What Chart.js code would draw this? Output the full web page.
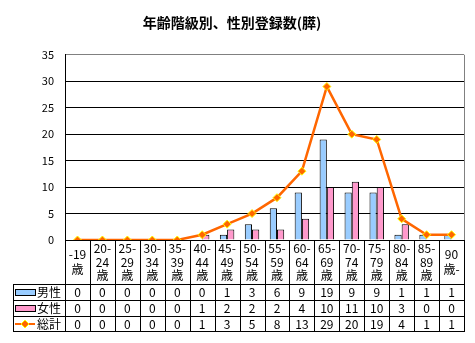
<!DOCTYPE html>
<html>
<head>
<meta charset="utf-8">
<script src="https://cdn.jsdelivr.net/npm/chart.js@4"></script>
<style>
  html, body { margin: 0; padding: 0; background: #fff; }
  #wrap { width: 475px; height: 343px; }
</style>
</head>
<body>
<div id="wrap"><canvas id="myChart" width="475" height="343"></canvas></div>
<script>
const categories = ['-19歳', '20-24歳', '25-29歳', '30-34歳', '35-39歳', '40-44歳', '45-49歳', '50-54歳',
  '55-59歳', '60-64歳', '65-69歳', '70-74歳', '75-79歳', '80-84歳', '85-89歳', '90歳-']
const tickLines = [['-19', '歳'], ['20-', '24', '歳'], ['25-', '29', '歳'], ['30-', '34', '歳'], ['35-', '39', '歳'],
  ['40-', '44', '歳'], ['45-', '49', '歳'], ['50-', '54', '歳'], ['55-', '59', '歳'], ['60-', '64', '歳'],
  ['65-', '69', '歳'], ['70-', '74', '歳'], ['75-', '79', '歳'], ['80-', '84', '歳'], ['85-', '89', '歳'], ['90', '歳-']]
const male = [0, 0, 0, 0, 0, 0, 1, 3, 6, 9, 19, 9, 9, 1, 1, 1]
const female = [0, 0, 0, 0, 0, 1, 2, 2, 2, 4, 10, 11, 10, 3, 0, 0]
const total = [0, 0, 0, 0, 0, 1, 3, 5, 8, 13, 29, 20, 19, 4, 1, 1]
const seriesNames = ['男性', '女性', '総計']
const yTicks = [0, 5, 10, 15, 20, 25, 30, 35]

const font = "'Noto Sans CJK JP', sans-serif"
const ctx = document.getElementById('myChart').getContext('2d')

// data table under the plot, drawn from the x scale
const tablePlugin = {
  id: 'dataTable',
  afterDraw(chart) {
    const c = chart.ctx
    const area = chart.chartArea
    const x = chart.scales.x
    const step = (area.right - area.left) / categories.length
    const tableLeft = 13
    const rowTops = [284, 300, 316, 331]
    const rows = [male, female, total]

    c.save()
    c.lineWidth = 1
    // plot right border
    c.beginPath()
    c.strokeStyle = '#808080'
    c.moveTo(area.right + 0.5, area.top)
    c.lineTo(area.right + 0.5, area.bottom)
    c.stroke()

    c.strokeStyle = '#000'
    c.beginPath()
    for (let i = 0; i <= categories.length; i++) {
      const bx = Math.round(area.left + i * step) + 0.5
      c.moveTo(bx, area.bottom)
      c.lineTo(bx, rowTops[3])
    }
    for (const ry of rowTops) {
      c.moveTo(tableLeft, ry + 0.5)
      c.lineTo(area.right + 1, ry + 0.5)
    }
    c.moveTo(tableLeft + 0.5, rowTops[0])
    c.lineTo(tableLeft + 0.5, rowTops[3])
    c.stroke()

    // category labels
    c.fillStyle = '#000'
    c.font = '12px ' + font
    c.textAlign = 'center'
    c.textBaseline = 'middle'
    const mid = (area.bottom + rowTops[0]) / 2
    tickLines.forEach((lines, i) => {
      const cx = x.getPixelForValue(i)
      const lh = lines.length === 3 ? 13.5 : 15
      lines.forEach((t, k) => {
        c.fillText(t, cx, mid + (k - (lines.length - 1) / 2) * lh)
      })
    })

    // values
    rows.forEach((vals, r) => {
      const cy = (rowTops[r] + rowTops[r + 1]) / 2 + 0.5
      vals.forEach((v, i) => {
        c.fillText(String(v), x.getPixelForValue(i), cy)
      })
    })

    // legend keys
    c.textAlign = 'left'
    c.font = '12px ' + font
    const keyColors = ['#99CCFF', '#FF99CC']
    for (let r = 0; r < 3; r++) {
      const cy = (rowTops[r] + rowTops[r + 1]) / 2 + 0.5
      if (r < 2) {
        c.fillStyle = keyColors[r]
        c.fillRect(15.5, cy - 3, 20, 6)
        c.strokeStyle = '#000'
        c.strokeRect(15.5, cy - 3, 20, 6)
      } else {
        c.strokeStyle = '#FF6600'
        c.lineWidth = 2
        c.beginPath()
        c.moveTo(15, cy)
        c.lineTo(35, cy)
        c.stroke()
        c.fillStyle = '#FF6600'
        c.strokeStyle = '#FFFF00'
        c.lineWidth = 1
        c.beginPath()
        c.moveTo(25, cy - 4)
        c.lineTo(29, cy)
        c.lineTo(25, cy + 4)
        c.lineTo(21, cy)
        c.closePath()
        c.fill()
        c.stroke()
      }
      c.fillStyle = '#000'
      c.fillText(seriesNames[r], 37, cy)
    }
    c.restore()
  }
}

new Chart(ctx, {
  type: 'bar',
  data: {
    labels: categories,
    datasets: [
      {
        type: 'line',
        label: seriesNames[2],
        data: total,
        borderColor: '#FF6600',
        backgroundColor: '#FF6600',
        borderWidth: 2.5,
        tension: 0,
        pointStyle: 'rectRot',
        pointRadius: 4,
        pointBorderColor: '#FFFF00',
        pointBorderWidth: 1,
        order: 0
      },
      {
        label: seriesNames[0],
        data: male,
        backgroundColor: '#99CCFF',
        borderColor: '#000',
        borderWidth: 1,
        barPercentage: 1,
        categoryPercentage: 0.58,
        order: 1
      },
      {
        label: seriesNames[1],
        data: female,
        backgroundColor: '#FF99CC',
        borderColor: '#000',
        borderWidth: 1,
        barPercentage: 1,
        categoryPercentage: 0.58,
        order: 1
      }
    ]
  },
  options: {
    responsive: false,
    animation: false,
    layout: { padding: { left: 0, right: 11, top: 0, bottom: 103 } },
    plugins: {
      legend: { display: false },
      tooltip: { enabled: false },
      title: {
        display: true,
        text: '年齢階級別、性別登録数(膵)',
        color: '#000',
        font: { family: font, size: 14, weight: 'bold' },
        padding: { top: 14, bottom: 24 }
      }
    },
    scales: {
      x: {
        ticks: { display: false },
        grid: { display: false, drawTicks: false },
        border: { display: true, color: '#000' }
      },
      y: {
        min: 0,
        max: 35,
        afterBuildTicks: (s) => { s.ticks = yTicks.map(v => ({ value: v })) },
        afterFit: (s) => { s.width = 65 },
        ticks: { color: '#000', font: { family: font, size: 11 }, padding: 11 },
        grid: {
          color: (c) => c.tick && c.tick.value === 35 ? '#808080' : '#000',
          drawTicks: false
        },
        border: { color: '#000' }
      }
    }
  },
  plugins: [tablePlugin]
})
</script>
</body>
</html>
